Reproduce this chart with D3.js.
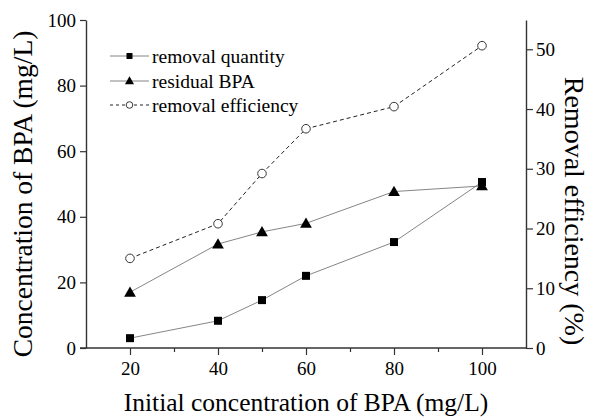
<!DOCTYPE html>
<html>
<head>
<meta charset="utf-8">
<script src="https://cdn.jsdelivr.net/npm/d3@7/dist/d3.min.js"></script>
<style>
  html, body { margin: 0; padding: 0; background: #fff; }
  svg { display: block; }
</style>
</head>
<body>
<svg id="chart" width="590" height="417"></svg>
<script>
// Initial BPA concentration (mg/L)
const initialConc = [20, 40, 50, 60, 80, 100];
// Amount of BPA removed (mg/L)
const removalQuantity = [3.0, 8.3, 14.6, 22.0, 32.3, 50.6];
// BPA left in solution (mg/L)
const residualBPA = [17.0, 31.7, 35.4, 38.0, 47.7, 49.4];
// Removal efficiency (%)
const removalEfficiency = [15.0, 20.8, 29.2, 36.7, 40.4, 50.6];

const xTicks = [20, 40, 60, 80, 100];
const xMinorTicks = [30, 50, 70, 90];
const yLeftTicks = [0, 20, 40, 60, 80, 100];
const yRightTicks = [0, 10, 20, 30, 40, 50];

const legendLabels = ["removal quantity", "residual BPA", "removal efficiency"];

const FONT = "Liberation Serif";

const svg = d3.select("#chart").attr("font-family", FONT);
const plot = { left: 86, right: 526, top: 20, bottom: 348 };

const x = d3.scaleLinear().domain([10, 110]).range([plot.left, plot.right]);
const yL = d3.scaleLinear().domain([0, 100]).range([plot.bottom, plot.top]);
const yR = d3.scaleLinear().domain([0, 54.9]).range([plot.bottom, plot.top]);

const axisColor = "#333";

// Bottom axis: major ticks with labels, minor ticks between them
const xAxis = svg.append("g").attr("transform", `translate(0,${plot.bottom})`)
  .call(d3.axisBottom(x).tickValues(xTicks).tickSize(7).tickPadding(6.5).tickSizeOuter(0));
svg.append("g").attr("transform", `translate(0,${plot.bottom})`)
  .call(d3.axisBottom(x).tickValues(xMinorTicks).tickSize(4).tickFormat("").tickSizeOuter(0))
  .select(".domain").remove();

svg.append("g").attr("transform", `translate(${plot.left},0)`)
  .call(d3.axisLeft(yL).tickValues(yLeftTicks).tickSize(6).tickPadding(4).tickSizeOuter(0));

svg.append("g").attr("transform", `translate(${plot.right},0)`)
  .call(d3.axisRight(yR).tickValues(yRightTicks).tickSize(7).tickPadding(3).tickSizeOuter(0));

svg.selectAll("g").filter(function () { return this.hasAttribute("font-family"); })
  .attr("font-family", FONT).attr("font-size", 19);
svg.selectAll(".domain").attr("stroke", axisColor).attr("stroke-width", 1.4);
svg.selectAll(".tick line").attr("stroke", axisColor).attr("stroke-width", 1.2);
svg.selectAll(".tick text").attr("font-family", FONT).attr("font-size", 19).attr("fill", "#000");
// extend the x-axis line across both vertical axes
xAxis.select(".domain").attr("d", `M${plot.left - 6},0H${plot.right + 1}`);

// Axis titles
svg.append("text")
  .attr("x", (plot.left + plot.right) / 2).attr("y", 411)
  .attr("text-anchor", "middle").attr("font-size", 25.5).attr("font-family", FONT)
  .text("Initial concentration of BPA (mg/L)");
svg.append("text")
  .attr("transform", "translate(32,194) rotate(-90)")
  .attr("text-anchor", "middle").attr("font-size", 27.5).attr("font-family", FONT)
  .text("Concentration of BPA (mg/L)");
svg.append("text")
  .attr("transform", "translate(564.5,211) rotate(90)")
  .attr("text-anchor", "middle").attr("font-size", 28).attr("font-family", FONT)
  .text("Removal efficiency (%)");

// Series
const pts = (vals) => initialConc.map((c, i) => [c, vals[i]]);
const lineL = d3.line().x(d => x(d[0])).y(d => yL(d[1]));
const lineR = d3.line().x(d => x(d[0])).y(d => yR(d[1]));

const g = svg.append("g");
g.append("path").datum(pts(removalQuantity)).attr("d", lineL)
  .attr("fill", "none").attr("stroke", "#777").attr("stroke-width", 0.9);
g.append("path").datum(pts(residualBPA)).attr("d", lineL)
  .attr("fill", "none").attr("stroke", "#777").attr("stroke-width", 0.9);
g.append("path").datum(pts(removalEfficiency)).attr("d", lineR)
  .attr("fill", "none").attr("stroke", "#222").attr("stroke-width", 1)
  .attr("stroke-dasharray", "4,3");

const sq = d3.symbol().type(d3.symbolSquare).size(64);
const tri = d3.symbol().type(d3.symbolTriangle).size(60);

g.selectAll(".tri").data(pts(residualBPA)).join("path")
  .attr("d", tri).attr("transform", d => `translate(${x(d[0])},${yL(d[1]) + 1})`)
  .attr("fill", "#000");
g.selectAll(".sq").data(pts(removalQuantity)).join("path")
  .attr("d", sq).attr("transform", d => `translate(${x(d[0])},${yL(d[1])})`)
  .attr("fill", "#000");
g.selectAll(".circ").data(pts(removalEfficiency)).join("circle")
  .attr("cx", d => x(d[0])).attr("cy", d => yR(d[1])).attr("r", 4.3)
  .attr("fill", "#fff").attr("stroke", "#222").attr("stroke-width", 0.9);

// Legend
const legend = svg.append("g");
const rowY = [56, 81, 105];
const lx0 = 110, lx1 = 149, lmx = 129.5;
legendLabels.forEach((label, i) => {
  const row = legend.append("g").attr("transform", `translate(0,${rowY[i]})`);
  const ln = row.append("line").attr("x1", lx0).attr("x2", lx1).attr("y1", 0).attr("y2", 0)
    .attr("stroke", i === 2 ? "#222" : "#777").attr("stroke-width", i === 2 ? 1 : 0.9);
  if (i === 2) ln.attr("stroke-dasharray", "3,3");
  if (i === 0) {
    row.append("path").attr("d", d3.symbol().type(d3.symbolSquare).size(36))
      .attr("transform", `translate(${lmx},0)`).attr("fill", "#000");
  } else if (i === 1) {
    row.append("path").attr("d", d3.symbol().type(d3.symbolTriangle).size(36))
      .attr("transform", `translate(${lmx},0.5)`).attr("fill", "#000");
  } else {
    row.append("circle").attr("cx", lmx).attr("cy", 0).attr("r", 3.3)
      .attr("fill", "#fff").attr("stroke", "#222").attr("stroke-width", 0.9);
  }
  row.append("text").attr("x", 152).attr("y", 6.5)
    .attr("font-size", 19.5).attr("font-family", FONT).text(label);
});
</script>
</body>
</html>
